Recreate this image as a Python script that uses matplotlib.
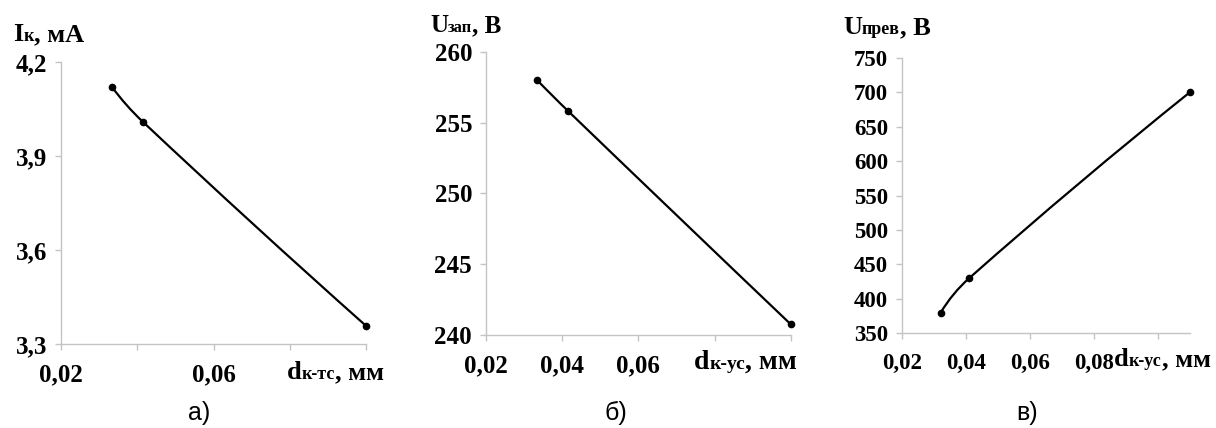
import matplotlib
matplotlib.use('Agg')
import matplotlib.pyplot as plt
import numpy as np
from matplotlib.path import Path
from matplotlib.patches import PathPatch

# data
x_a = [0.0334, 0.0414, 0.100]
ik = [4.12, 4.01, 3.358]

x_b = [0.0334, 0.0416, 0.100]
u_zap = [258.0, 255.8, 240.76]

x_c = [0.0321, 0.041, 0.110]
u_prev = [380, 430, 700]

xt_a = [0.02, 0.04, 0.06, 0.08, 0.10]
xl_a = ['0,02', '', '0,06', '', '']
yt_a = [3.3, 3.6, 3.9, 4.2]
yl_a = ['3,3', '3,6', '3,9', '4,2']

xt_b = [0.02, 0.04, 0.06, 0.08, 0.10]
xl_b = ['0,02', '0,04', '0,06', '', '']
yt_b = [240, 245, 250, 255, 260]
yl_b = ['240', '245', '250', '255', '260']

xt_c = [0.02, 0.04, 0.06, 0.08, 0.10]
xl_c = ['0,02', '0,04', '0,06', '0,08', '']
yt_c = [350, 400, 450, 500, 550, 600, 650, 700, 750]
yl_c = [str(v) for v in yt_c]

W, H = 1216, 428
SERIF = 'Liberation Serif'
GRAY = '#c4c4c4'

plt.rcParams['font.family'] = SERIF
plt.rcParams['font.weight'] = 'bold'

fig = plt.figure(figsize=(W / 100, H / 100), dpi=100)
renderer = fig.canvas.get_renderer()


def unit(v):
    return v / np.hypot(*v)


def smooth_line(ax, xs, ys):
    # smoothed line like a spreadsheet chart; tangents scaled by segment length
    pts = ax.transData.transform(np.column_stack([xs, ys]))
    n = len(pts)
    tang = [None] * n
    for i in range(1, n - 1):
        tang[i] = unit(pts[i + 1] - pts[i - 1])
    # free ends: tangent mirrored about the end chord
    tang[0] = unit(2 * unit(pts[1] - pts[0]) - tang[1])
    tang[-1] = unit(2 * unit(pts[-1] - pts[-2]) - tang[-2])
    verts = [pts[0]]
    codes = [Path.MOVETO]
    for i in range(n - 1):
        seg = np.hypot(*(pts[i + 1] - pts[i])) / 3
        verts += [pts[i] + tang[i] * seg, pts[i + 1] - tang[i + 1] * seg, pts[i + 1]]
        codes += [Path.CURVE4] * 3
    verts = ax.transData.inverted().transform(np.array(verts))
    ax.add_patch(PathPatch(Path(verts, codes), fc='none', ec='black', lw=1.6))
    ax.plot(xs, ys, 'o', color='black', ms=4.5, clip_on=False, zorder=3)


def rich(x, y, parts):
    # parts: (text, size); x, y in pixels from top-left, y = baseline
    cx = x / W
    for s, size in parts:
        t = fig.text(cx, 1 - y / H, s, fontsize=size, family=SERIF,
                     weight='bold', ha='left', va='baseline')
        cx = t.get_window_extent(renderer).x1 / W


def make_axes(rect, xs, ys, xt, xl, yt, yl, xlim, ylim, tsize):
    ax = fig.add_axes(rect)
    ax.set_xlim(*xlim)
    ax.set_ylim(*ylim)
    smooth_line(ax, xs, ys)
    ax.set_xticks(xt, xl, fontsize=tsize, fontweight='bold', family=SERIF)
    ax.set_yticks(yt, yl, fontsize=tsize, fontweight='bold', family=SERIF)
    for sp in ['top', 'right']:
        ax.spines[sp].set_visible(False)
    for sp in ['left', 'bottom']:
        ax.spines[sp].set_color(GRAY)
        ax.spines[sp].set_linewidth(1.0)
    ax.tick_params(axis='both', direction='out', length=4, width=1, color=GRAY)
    ax.tick_params(axis='x', pad=10)
    ax.tick_params(axis='y', pad=6)
    return ax


make_axes([61 / W, 1 - 344 / H, 305 / W, 282 / H], x_a, ik,
          xt_a, xl_a, yt_a, yl_a, (0.02, 0.10), (3.3, 4.2), 18)
make_axes([486 / W, 1 - 335 / H, 304.7 / W, 283.3 / H], x_b, u_zap,
          xt_b, xl_b, yt_b, yl_b, (0.02, 0.10), (240, 260), 18)
make_axes([902 / W, 1 - 333.3 / H, 288 / W, 275.6 / H], x_c, u_prev,
          xt_c, xl_c, yt_c, yl_c, (0.02, 0.11), (350, 750), 16.5)

# axis titles
rich(13, 41, [('I', 19), ('к', 13), (', мА', 19)])
rich(287, 379, [('d', 19), ('к-тс', 13), (', мм', 19)])
rich(430, 32, [('U', 18), ('зап', 12), (', В', 18)])
rich(694, 369, [('d', 20), ('к-ус', 14), (', мм', 20)])
rich(843, 34, [('U', 19), ('прев', 13), (', В', 19)])
rich(1114, 366, [('d', 19), ('к-ус', 13), (', мм', 19)])

# panel captions
for cx, lab in [(199, 'а)'), (616, 'б)'), (1027, 'в)')]:
    fig.text(cx / W, 1 - 420 / H, lab, fontsize=18, family='Liberation Sans',
             weight='normal', ha='center', va='baseline')

fig.savefig('out.png', dpi=100)
